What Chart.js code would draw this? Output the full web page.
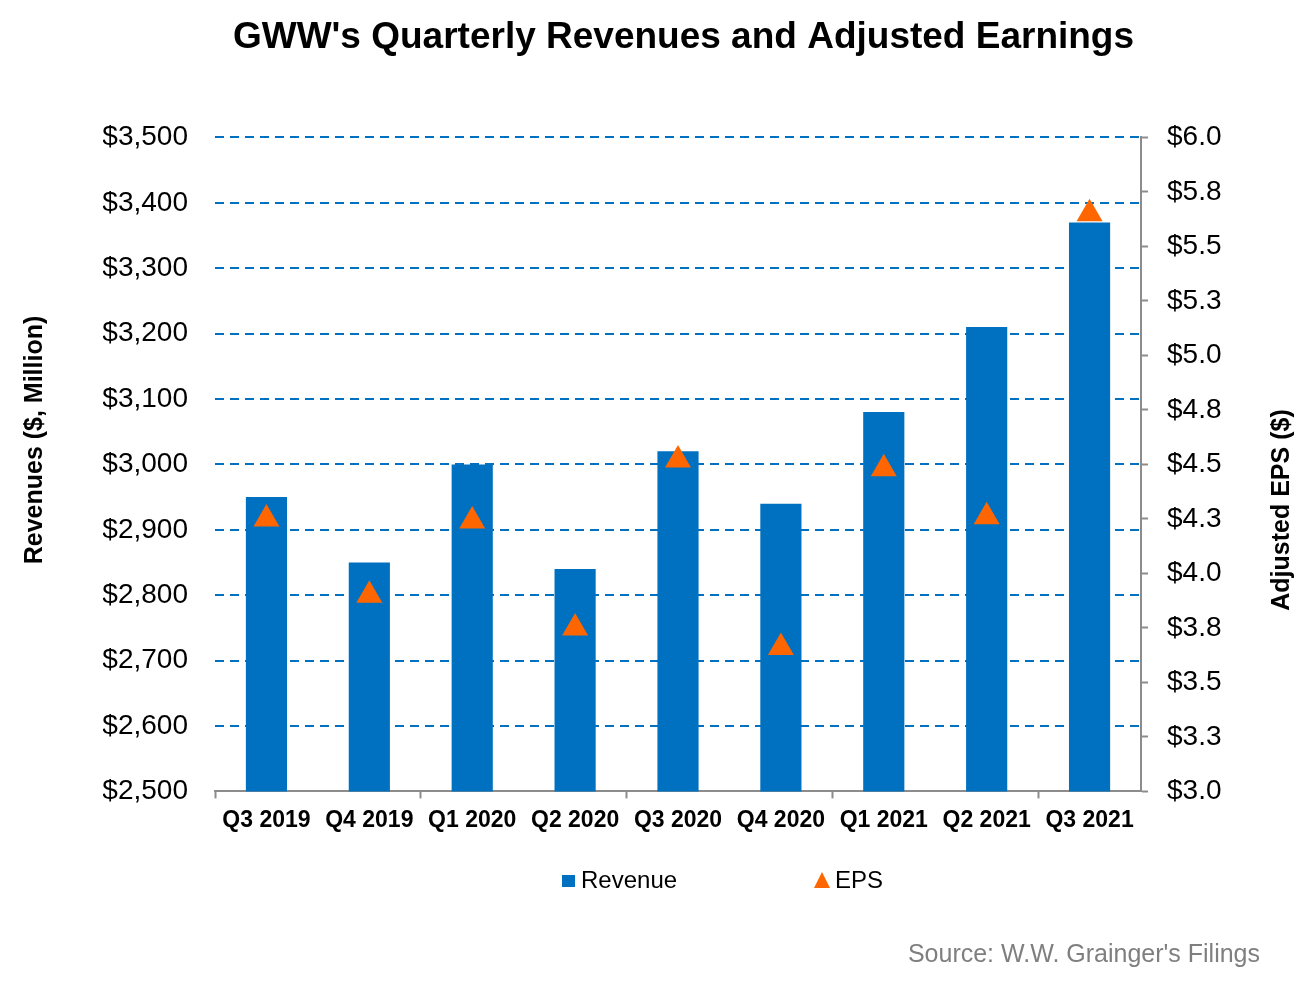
<!DOCTYPE html>
<html>
<head>
<meta charset="utf-8">
<title>GWW Quarterly Revenues and Adjusted Earnings</title>
<script src="https://cdn.jsdelivr.net/npm/chart.js@4/dist/chart.umd.min.js"></script>
<style>
  html, body { margin: 0; padding: 0; background: #fff; }
  #wrap { width: 1313px; height: 997px; }
</style>
</head>
<body>
<div id="wrap"><canvas id="Chart_0" width="1313" height="997"></canvas></div>
<script>
"use strict";

// data
const quarters = ['Q3 2019', 'Q4 2019', 'Q1 2020', 'Q2 2020', 'Q3 2020', 'Q4 2020', 'Q1 2021', 'Q2 2021', 'Q3 2021'];
const revenue = [2950, 2850, 3000, 2840, 3020, 2940, 3080, 3210, 3370];
const eps = [4.25, 3.90, 4.24, 3.75, 4.52, 3.66, 4.48, 4.26, 5.65];
const revTicks = { min: 2500, max: 3500, step: 100 };
const epsTicks = { min: 3.0, max: 6.0, step: 0.25 };

const FONT = 'Arial, "Liberation Sans", sans-serif';
const BLUE = '#0070C0', ORANGE = '#FF6600', GREY = '#8c8c8c';

// axis titles, legend and source note
const extraText = {
  id: 'extraText',
  afterDraw(chart) {
    const ctx = chart.ctx;
    ctx.save();
    ctx.fillStyle = '#000';
    ctx.font = 'bold 25px ' + FONT;
    ctx.textAlign = 'center';
    ctx.textBaseline = 'middle';
    [['Revenues ($, Million)', 35, 440], ['Adjusted EPS ($)', 1282, 510]].forEach(t => {
      ctx.save();
      ctx.translate(t[1], t[2]);
      ctx.rotate(-Math.PI / 2);
      ctx.fillText(t[0], 0, 0);
      ctx.restore();
    });

    // legend
    const ly = 881;
    ctx.font = '24px ' + FONT;
    ctx.textAlign = 'left';
    ctx.fillStyle = chart.data.datasets[0].backgroundColor;
    ctx.fillRect(562, ly - 6, 13, 12);
    ctx.fillStyle = '#000';
    ctx.fillText(chart.data.datasets[0].label, 581, ly);
    ctx.fillStyle = chart.data.datasets[1].backgroundColor;
    ctx.beginPath();
    ctx.moveTo(822, ly - 9);
    ctx.lineTo(830, ly + 7);
    ctx.lineTo(814, ly + 7);
    ctx.closePath();
    ctx.fill();
    ctx.fillStyle = '#000';
    ctx.fillText(chart.data.datasets[1].label, 835, ly);

    ctx.font = '25px ' + FONT;
    ctx.fillStyle = '#7f7f7f';
    ctx.textAlign = 'right';
    ctx.fillText("Source: W.W. Grainger's Filings", 1260, 955);
    ctx.restore();
  }
};

Chart.defaults.color = '#000';
Chart.defaults.font.family = FONT;

const ctx = document.getElementById('Chart_0');
const chart = new Chart(ctx, {
  type: 'bar',
  data: {
    labels: quarters,
    datasets: [{
      label: 'Revenue',
      data: revenue,
      backgroundColor: BLUE,
      barPercentage: 0.4,
      categoryPercentage: 1,
      yAxisID: 'y',
      order: 2
    }, {
      type: 'line',
      label: 'EPS',
      data: eps,
      showLine: false,
      backgroundColor: ORANGE,
      borderColor: ORANGE,
      pointStyle: 'triangle',
      pointRadius: 15,
      pointHoverRadius: 15,
      pointBorderWidth: 0,
      yAxisID: 'y1',
      order: 1
    }]
  },
  options: {
    responsive: false,
    animation: false,
    layout: { padding: { left: 103, right: 49, top: 0, bottom: 155 } },
    plugins: {
      legend: { display: false },
      tooltip: { enabled: false },
      title: {
        display: true,
        text: "GWW's Quarterly Revenues and Adjusted Earnings",
        color: '#000',
        font: { size: 37, weight: 'bold', family: FONT },
        padding: { top: 16, bottom: 77 }
      }
    },
    scales: {
      x: {
        grid: {
          drawOnChartArea: false,
          drawTicks: true,
          tickLength: 7,
          tickWidth: 2,
          tickColor: c => (c.index % 2 === 0 ? GREY : 'rgba(0,0,0,0)')
        },
        border: { display: true, color: GREY, width: 2 },
        ticks: { padding: 8, font: { size: 23, weight: 'bold' }, maxRotation: 0 }
      },
      y: {
        position: 'left',
        min: revTicks.min,
        max: revTicks.max,
        afterFit: s => { s.width = 112; },
        grid: {
          drawTicks: false,
          lineWidth: 2,
          color: c => (c.index === 0 ? 'rgba(0,0,0,0)' : BLUE)
        },
        border: { display: false, dash: [9, 6] },
        ticks: {
          stepSize: revTicks.step,
          padding: 27,
          font: { size: 28 },
          callback: v => '$' + Number(v).toLocaleString('en-US')
        }
      },
      y1: {
        position: 'right',
        min: epsTicks.min,
        max: epsTicks.max,
        afterFit: s => { s.width = 123; },
        grid: { drawOnChartArea: false, drawTicks: true, tickLength: 7, tickWidth: 2, tickColor: GREY },
        border: { display: true, color: GREY, width: 2 },
        ticks: {
          stepSize: epsTicks.step,
          maxTicksLimit: 20,
          padding: 19,
          font: { size: 28 },
          callback: v => '$' + Number(v).toFixed(1)
        }
      }
    }
  },
  plugins: [extraText]
});
</script>
</body>
</html>
